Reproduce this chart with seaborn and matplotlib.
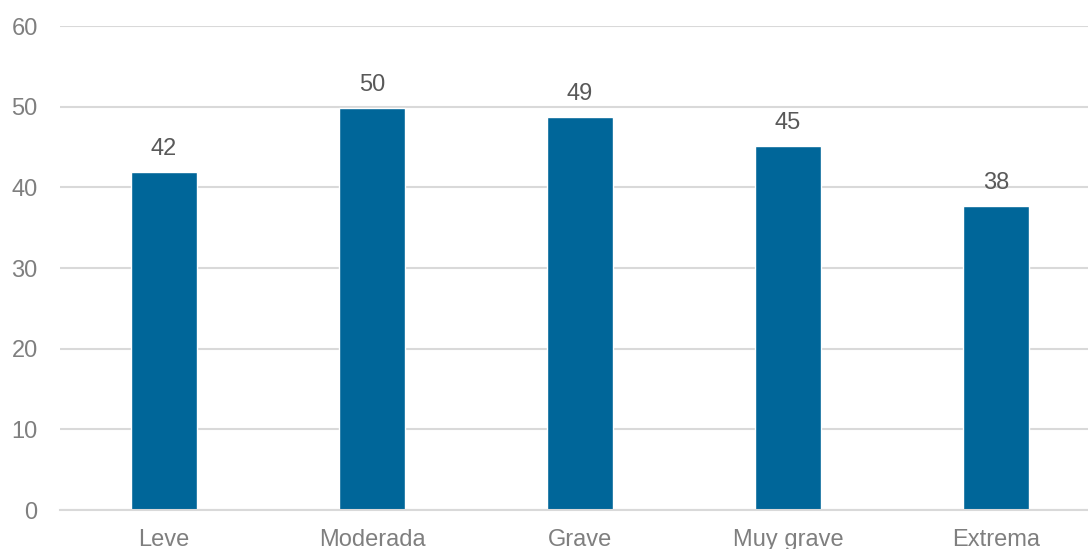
import seaborn as sns
import matplotlib
matplotlib.use("Agg")
import matplotlib.pyplot as plt
import pandas as pd

# datos
categorias = ["Leve", "Moderada", "Grave", "Muy grave", "Extrema"]
valores = [41.9, 49.8, 48.7, 45.1, 37.7]
etiquetas = ["42", "50", "49", "45", "38"]
y_ticks = [0, 10, 20, 30, 40, 50, 60]

sns.set_theme(style="white")
plt.rcParams['font.family'] = ['Liberation Sans', 'DejaVu Sans']

df = pd.DataFrame({"cat": categorias, "val": valores})

fig = plt.figure(figsize=(10.88, 5.49), dpi=100)
ax = fig.add_axes([0.0551, 0.0710, 0.9559, 0.8816])

sns.barplot(data=df, x="cat", y="val", color="#006699", saturation=1, width=0.32, ax=ax)

# etiquetas de datos sobre cada barra
for p, lab in zip(ax.patches, etiquetas):
    ax.annotate(lab, xy=(p.get_x() + p.get_width() / 2, p.get_height()),
                xytext=(0, 8.5), textcoords="offset points",
                ha="center", va="bottom", fontsize=17, color="#595959")

ax.set_ylim(0, 60)
ax.set_xlim(-0.5, 4.5)
ax.set_yticks(y_ticks)
ax.yaxis.grid(True, color="#d9d9d9", linewidth=1.5)
ax.set_axisbelow(True)
for s in ["top", "right", "left"]:
    ax.spines[s].set_visible(False)
ax.spines["bottom"].set_color("#d9d9d9")
ax.spines["bottom"].set_linewidth(1.5)
ax.tick_params(axis="both", length=0, labelsize=17, labelcolor="#7f7f7f")
ax.tick_params(axis="x", pad=13.5)
ax.tick_params(axis="y", pad=16)
ax.set_xlabel("")
ax.set_ylabel("")

fig.savefig("out.png", dpi=100)
